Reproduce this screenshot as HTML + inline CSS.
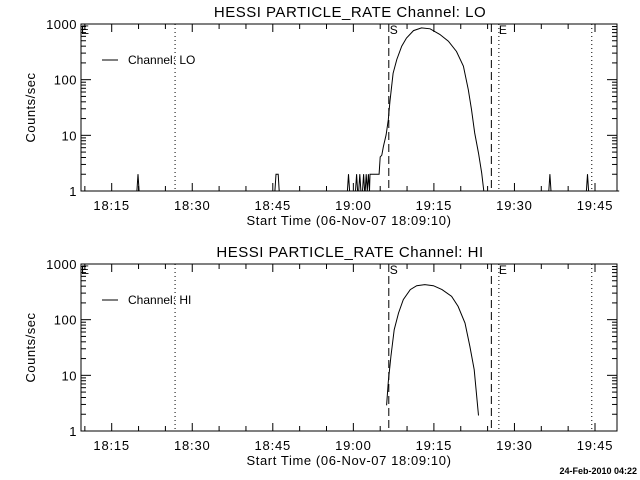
<!DOCTYPE html>
<html><head><meta charset="utf-8"><style>
body{margin:0;background:#fff}
svg{display:block;font-family:"Liberation Sans",sans-serif}
</style></head><body>
<svg id="c" width="640" height="480" viewBox="0 0 640 480" xmlns="http://www.w3.org/2000/svg"></svg>
<script>
// minutes after 18:00
const loTimes = [9.2,19.7,19.9,20.1,45.4,45.6,46.0,46.2,58.9,59.1,59.3,60.4,60.6,60.8,61.0,61.2,61.4,61.7,61.9,62.1,62.2,62.4,62.6,62.6,62.8,63.0,63.1,64.8,65.0,65.3,65.6,66.1,66.5,66.8,67.4,68.1,69.0,69.9,71.2,72.7,74.3,76.1,77.7,79.2,80.5,81.4,82.0,82.6,83.3,83.9,84.3,96.4,96.6,96.8,103.4,103.6,103.8,109.5];
const loValues = [1,1,2,1,1,2,2,1,1,2,1,1,2,1,1,2,1,1,2,1,1,2,1,1,2,1,2,2,4.1,4.4,6.3,10.2,19,40,130,230,400,560,760,850,820,650,490,320,175,66,29,11,4.8,2.1,1,1,2,1,1,2,1,1];
const hiTimes = [66.2,66.5,67.0,67.6,68.4,69.3,70.6,71.8,73.3,74.9,76.5,78.3,79.5,80.8,81.7,82.5,83.3];
const hiValues = [2.9,7.7,21.8,66,131,229,347,408,426,408,347,262,173,87,33,12.6,1.9];
const xTickLabels = ["18:15","18:30","18:45","19:00","19:15","19:30","19:45"];
const xTickMinutes = [15,30,45,60,75,90,105];
const yTickLabels = ["1","10","100","1000"];
const yTickValues = [1,10,100,1000];
const startLine = 66.6, endLine = 85.7;
const dottedLines = [26.8, 87.1, 104.4];

const NS="http://www.w3.org/2000/svg";
const svg=document.getElementById('c');
const X0=81,X1=617,PXM=5.37;
function xs(t){return 111.7+(t-15)*PXM;}
function mk(tag,attrs,parent){const e=document.createElementNS(NS,tag);for(const k in attrs)e.setAttribute(k,attrs[k]);(parent||svg).appendChild(e);return e;}
function txt(s,x,y,size,anchor,parent,extra){const t=mk('text',Object.assign({x:x,y:y,'font-size':size,'text-anchor':anchor||'middle',fill:'#000'},extra||{}),parent);t.textContent=s;return t;}

function panel(top,bottom,title,ch,times,values,name){
  const g=mk('g',{});
  
  
  const dec=(bottom-top)/3;
  const ys=v=>bottom-dec*Math.log10(v);
  const ttl=txt(title,350,top-7,15,'middle',g,{'letter-spacing':'0.5'});
  
  
  const box=mk('rect',{x:X0,y:top,width:X1-X0,height:bottom-top,fill:'none',stroke:'#000','stroke-width':1},g);
  
  
  for(let d=0;d<3;d++){for(let m=1;m<10;m++){const v=Math.pow(10,d)*m;const y=ys(v);const L=m===1?10:5;
    mk('line',{x1:X0,x2:X0+L,y1:y,y2:y,stroke:'#000'},g);mk('line',{x1:X1-L,x2:X1,y1:y,y2:y,stroke:'#000'},g);}}
  yTickValues.forEach((v,i)=>{const t=txt(yTickLabels[i],X0-4,ys(v)+5,13,'end',g,{'letter-spacing':'0.5'});
    
    });
  for(let t=10;t<=105;t+=5){const x=xs(t);const L=(t%15===0)?8:5;
    mk('line',{x1:x,x2:x,y1:bottom,y2:bottom-L,stroke:'#000'},g);mk('line',{x1:x,x2:x,y1:top,y2:top+L,stroke:'#000'},g);}
  xTickMinutes.forEach((t,i)=>{const e=txt(xTickLabels[i],xs(t),bottom+19,13,'middle',g,{'letter-spacing':'0.8'});
    
    });
  const xt=txt('Start Time (06-Nov-07 18:09:10)',349,bottom+34,13,'middle',g,{'letter-spacing':'0.6'});
  
  
  const yt=txt('Counts/sec',35,(top+bottom)/2,13,'middle',g,{transform:`rotate(-90 35 ${(top+bottom)/2})`,'letter-spacing':'0.5'});
  
  
  dottedLines.forEach(t=>{const l=mk('line',{x1:xs(t),x2:xs(t),y1:top,y2:bottom,stroke:'#000','stroke-dasharray':'1,3'},g);
    
    });
  [startLine,endLine].forEach(t=>{const l=mk('line',{x1:xs(t),x2:xs(t),y1:top,y2:bottom,stroke:'#000','stroke-dasharray':'8,4'},g);
    
    });
  txt('S',xs(startLine)+5,top+10,12,'middle',g);
  txt('E',xs(endLine+1.4)+4,top+10,12,'middle',g);
  txt('E',X0+4,top+10,12,'middle',g);
  mk('line',{x1:102,x2:118,y1:top+36,y2:top+36,stroke:'#000'},g);
  const lg=txt('Channel: '+ch,128,top+40,12,'start',g);
  
  
  const pts=times.map((t,i)=>xs(t).toFixed(1)+','+Math.min(bottom,ys(values[i])).toFixed(1)).join(' ');
  const pl=mk('polyline',{points:pts,fill:'none',stroke:'#000','stroke-width':1},g);
  
  
}
panel(24,191,'HESSI PARTICLE_RATE Channel: LO','LO',loTimes,loValues,'panel-lo');
panel(264,431,'HESSI PARTICLE_RATE Channel: HI','HI',hiTimes,hiValues,'panel-hi');
const d=txt('24-Feb-2010 04:22',637,474,9,'end',svg,{'font-weight':'bold'});


</script>
</body></html>
